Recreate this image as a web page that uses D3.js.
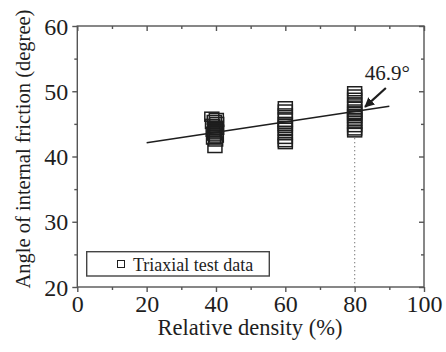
<!DOCTYPE html>
<html>
<head>
<meta charset="utf-8">
<script src="https://cdn.jsdelivr.net/npm/d3@7"></script>
<style>
  html, body { margin: 0; padding: 0; background: #fff; }
  svg { display: block; }
  svg text { font-family: "Liberation Serif", "Times New Roman", "DejaVu Serif", serif !important; }
</style>
</head>
<body>
<svg id="chart" width="446" height="352"></svg>
<script>
// Triaxial test results: relative density (%) vs angle of internal friction (degree)
const density40 = [38.8, 40.1, 39.5, 40.2, 39.0, 39.9, 39.6, 40.2, 39.2, 40.0, 39.5, 40.1, 39.3, 39.9, 39.7];
const angle40   = [46.1, 45.9, 45.6, 45.3, 45.0, 44.7, 44.4, 44.1, 43.8, 43.5, 43.2, 42.9, 42.6, 42.3, 41.3];
const density60 = [60, 60, 60, 60, 60, 60, 60, 60, 60, 60, 60, 60, 60];
const angle60   = [47.7, 47.2, 46.6, 46.0, 45.3, 45.0, 44.7, 44.4, 43.9, 43.3, 42.7, 42.2, 41.9];
const density80 = [80, 80, 80, 80, 80, 80, 80, 80, 80, 80, 80, 80, 80, 80, 80];
const angle80   = [50.0, 49.5, 49.0, 48.3, 47.8, 47.2, 46.8, 46.5, 46.2, 45.9, 45.5, 45.0, 44.5, 44.0, 43.7];

// Linear fit: angle = intercept + slope * density, drawn over 20–90 %
const fitIntercept = 40.5;
const fitSlope = 0.08;
const fitRange = [20, 90];

// Highlighted value at Dr = 80 %
const markDensity = 80;
const markAngle = 46.9;
const markLabel = "46.9°";

const xTicksMajor = [0, 20, 40, 60, 80, 100];
const xTicksMinor = [10, 30, 50, 70, 90];
const yTicksMajor = [20, 30, 40, 50, 60];
const yTicksMinor = [25, 35, 45, 55];

const xTitle = "Relative density (%)";
const yTitle = "Angle of internal friction (degree)";
const legendLabel = "Triaxial test data";

const points = [];
[[density40, angle40], [density60, angle60], [density80, angle80]].forEach(([xs, ys]) => {
  xs.forEach((d, i) => points.push({ x: d, y: ys[i] }));
});

const serif = '"Liberation Serif", "Times New Roman", serif';
const svg = d3.select("#chart");
const plotL = 77.3, plotR = 424, plotT = 26, plotB = 287;
const x = d3.scaleLinear().domain([0, 100]).range([plotL, plotR]);
const y = d3.scaleLinear().domain([20, 60]).range([plotB, plotT]);

const axisColor = "#555";
const ink = "#1e1e1e";

// frame
svg.append("rect")
  .attr("x", plotL).attr("y", plotT)
  .attr("width", plotR - plotL).attr("height", plotB - plotT)
  .attr("fill", "none").attr("stroke", axisColor).attr("stroke-width", 1.4);

function styleAxis(g) {
  g.attr("font-family", serif);
  g.select(".domain").remove();
  g.selectAll(".tick line").attr("stroke", axisColor).attr("stroke-width", 1.4);
}

// bottom axis, outward ticks with labels
const gx = svg.append("g").attr("transform", `translate(0,${plotB})`)
  .call(d3.axisBottom(x).tickValues(xTicksMajor).tickSize(5).tickPadding(3).tickFormat(d3.format("d")));
styleAxis(gx);
gx.selectAll(".tick text").attr("font-size", 24).attr("fill", ink);
svg.append("g").attr("transform", `translate(0,${plotB})`)
  .call(d3.axisBottom(x).tickValues(xTicksMinor).tickSize(3).tickFormat(""))
  .call(styleAxis);

// left axis
const gy = svg.append("g").attr("transform", `translate(${plotL},0)`)
  .call(d3.axisLeft(y).tickValues(yTicksMajor).tickSize(5).tickPadding(4).tickFormat(d3.format("d")));
styleAxis(gy);
gy.selectAll(".tick text").attr("font-size", 24).attr("fill", ink).attr("dy", "0.34em");
svg.append("g").attr("transform", `translate(${plotL},0)`)
  .call(d3.axisLeft(y).tickValues(yTicksMinor).tickSize(3).tickFormat(""))
  .call(styleAxis);

// mirrored inward ticks on right and top
svg.append("g").attr("transform", `translate(${plotR},0)`)
  .call(d3.axisLeft(y).tickValues(yTicksMajor).tickSize(5).tickFormat(""))
  .call(styleAxis);
svg.append("g").attr("transform", `translate(${plotR},0)`)
  .call(d3.axisLeft(y).tickValues(yTicksMinor).tickSize(3).tickFormat(""))
  .call(styleAxis);
svg.append("g").attr("transform", `translate(0,${plotT})`)
  .call(d3.axisBottom(x).tickValues(xTicksMajor).tickSize(5).tickFormat(""))
  .call(styleAxis);
svg.append("g").attr("transform", `translate(0,${plotT})`)
  .call(d3.axisBottom(x).tickValues(xTicksMinor).tickSize(3).tickFormat(""))
  .call(styleAxis);

// axis titles
svg.append("text")
  .attr("x", 250).attr("y", 335)
  .attr("text-anchor", "middle").attr("font-size", 22.5).attr("fill", ink)
  .attr("font-family", serif)
  .text(xTitle);
svg.append("text")
  .attr("transform", `translate(30,149) rotate(-90)`)
  .attr("text-anchor", "middle").attr("font-size", 20.5).attr("fill", ink)
  .attr("font-family", serif)
  .text(yTitle);

// dotted guide at Dr = 80 %
const lowest80 = d3.min(angle80);
svg.append("line")
  .attr("x1", x(markDensity)).attr("x2", x(markDensity))
  .attr("y1", y(lowest80) + 6).attr("y2", y(20))
  .attr("stroke", "#666").attr("stroke-width", 1.2).attr("stroke-dasharray", "1,3");

// markers
const mw = 14, mh = 9;
svg.append("g").selectAll("rect").data(points).join("rect")
  .attr("x", d => x(d.x) - mw / 2).attr("y", d => y(d.y) - mh / 2)
  .attr("width", mw).attr("height", mh)
  .attr("fill", "none").attr("stroke", ink).attr("stroke-width", 1.5);

// fit line
const fit = d3.line().x(d => x(d)).y(d => y(fitIntercept + fitSlope * d));
svg.append("path").datum(fitRange)
  .attr("d", fit).attr("fill", "none").attr("stroke", ink).attr("stroke-width", 1.6);

// annotation arrow and label
const defs = svg.append("defs");
defs.append("marker").attr("id", "arrowhead")
  .attr("viewBox", "0 0 10 10").attr("refX", 9).attr("refY", 5)
  .attr("markerWidth", 4.5).attr("markerHeight", 4.5).attr("orient", "auto")
  .append("path").attr("d", "M0,0 L10,5 L0,10 Z").attr("fill", ink);
svg.append("line")
  .attr("x1", x(89)).attr("y1", y(50.5))
  .attr("x2", x(83)).attr("y2", y(47.6))
  .attr("stroke", ink).attr("stroke-width", 2.2)
  .attr("marker-end", "url(#arrowhead)");
svg.append("text")
  .attr("x", x(82.9)).attr("y", y(51.7))
  .attr("font-size", 21).attr("fill", ink).attr("font-family", serif)
  .text(markLabel);

// legend
const lg = svg.append("g");
lg.append("rect").attr("x", 86.7).attr("y", 251.7).attr("width", 182.6).attr("height", 24.3)
  .attr("fill", "#fff").attr("stroke", "#444").attr("stroke-width", 1.4);
lg.append("rect").attr("x", 117.5).attr("y", 260.5).attr("width", 7).attr("height", 7)
  .attr("fill", "none").attr("stroke", ink).attr("stroke-width", 1);
lg.append("text").attr("x", 133).attr("y", 270.5)
  .attr("font-size", 18).attr("fill", ink).attr("font-family", serif).text(legendLabel);
</script>
</body>
</html>
